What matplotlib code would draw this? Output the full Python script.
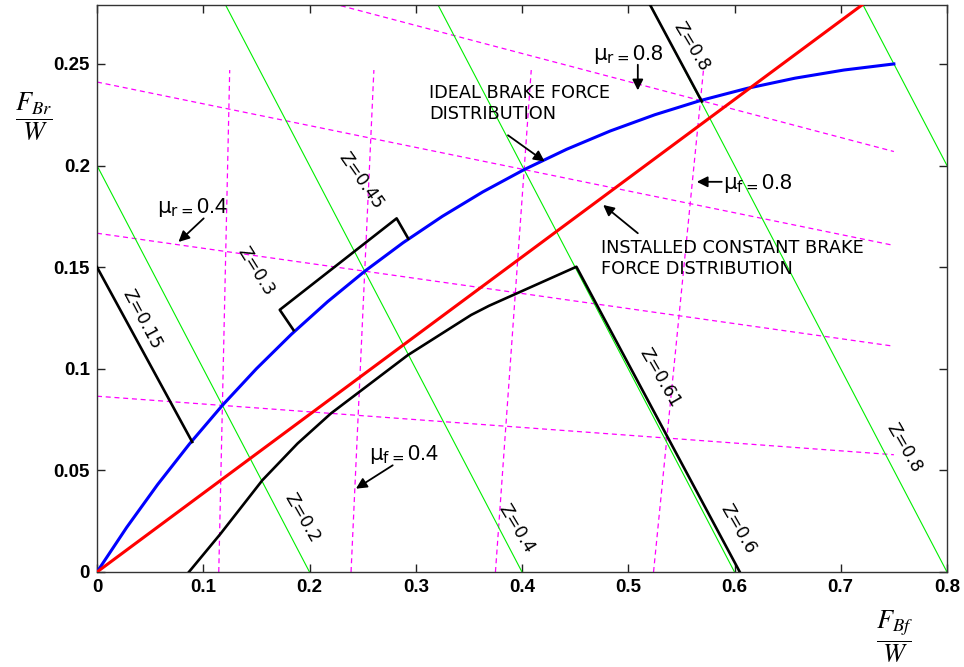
import matplotlib
matplotlib.use('Agg')
import matplotlib.pyplot as plt

# ---------------- data ----------------
# Ideal brake force distribution (blue curve)
ideal_fbf = [0, 0.028, 0.057, 0.087, 0.118, 0.150, 0.183, 0.217, 0.252, 0.288, 0.325,
             0.363, 0.402, 0.442, 0.483, 0.525, 0.568, 0.612, 0.657, 0.703, 0.750]
ideal_fbr = [0, 0.022, 0.043, 0.063, 0.082, 0.100, 0.117, 0.133, 0.148, 0.162, 0.175,
             0.187, 0.198, 0.208, 0.217, 0.225, 0.232, 0.238, 0.243, 0.247, 0.250]

# Installed constant brake force distribution (red line)
installed_fbf = [0, 0.72]
installed_fbr = [0, 0.279]

# Black curve (lower) and its Z=0.61 branch
actual_fbf = [0.0865, 0.1164, 0.1557, 0.1887, 0.2201, 0.2925, 0.3522, 0.369, 0.4512, 0.605]
actual_fbr = [0, 0.0189, 0.0452, 0.0632, 0.078, 0.1067, 0.1265, 0.131, 0.1502, 0]

# Black Z=0.15 segment, bracket, and Z=0.8 segment
z015_fbf = [0, 0.0896]
z015_fbr = [0.150, 0.064]
bracket_fbf = [0.185, 0.172, 0.282, 0.293]
bracket_fbr = [0.119, 0.129, 0.174, 0.164]
z08_fbf = [0.5204, 0.5693]
z08_fbr = [0.2792, 0.2315]

# Constant deceleration lines (green)
z_levels = [0.2, 0.4, 0.6, 0.8, 1.0]

# Front friction lines (magenta, near vertical)
mu_f_values = [0.2, 0.4, 0.6, 0.8]
mu_f_fbf_bottom = [0.1146, 0.2391, 0.375, 0.5238]
mu_f_fbf_top = [0.1249, 0.2606, 0.4087, 0.5708]
mu_f_fbr_top = 0.247

# Rear friction lines (magenta, near horizontal)
mu_r_values = [0.2, 0.4, 0.6, 0.8]
mu_r_fbr_left = [0.0865, 0.1667, 0.2411, 0.3103]
mu_r_fbr_right = [0.0577, 0.1111, 0.1607, 0.2069]
mu_r_fbf_right = 0.75

x_ticks = [0, 0.1, 0.2, 0.3, 0.4, 0.5, 0.6, 0.7, 0.8]
x_ticklabels = ['0', '0.1', '0.2', '0.3', '0.4', '0.5', '0.6', '0.7', '0.8']
y_ticks = [0, 0.05, 0.1, 0.15, 0.2, 0.25]
y_ticklabels = ['0', '0.05', '0.1', '0.15', '0.2', '0.25']

z_labels = [
    ('Z=0.15', 0.0419, 0.1244, -62),
    ('Z=0.3', 0.1493, 0.1480, -58),
    ('Z=0.45', 0.2488, 0.1923, -55),
    ('Z=0.2', 0.1934, 0.0267, -60),
    ('Z=0.4', 0.3946, 0.0215, -59),
    ('Z=0.61', 0.5298, 0.0957, -60),
    ('Z=0.6', 0.6038, 0.0210, -60),
    ('Z=0.8', 0.7600, 0.0610, -60),
    ('Z=0.8', 0.5597, 0.2586, -59),
]

mu_labels = [
    (r'$\mathrm{\mu}_{\mathrm{r=}}$0.4', 0.0566, 0.1767, (0.1004, 0.174), (0.0767, 0.1624)),
    (r'$\mathrm{\mu}_{\mathrm{r=}}$0.8', 0.467, 0.252, (0.509, 0.2496), (0.509, 0.237)),
    (r'$\mathrm{\mu}_{\mathrm{f=}}$0.8', 0.5896, 0.1884, (0.588, 0.192), (0.5645, 0.192)),
    (r'$\mathrm{\mu}_{\mathrm{f=}}$0.4', 0.2562, 0.055, (0.2783, 0.0525), (0.2437, 0.041)),
]

# ---------------- figure ----------------
fig = plt.figure(figsize=(9.64, 6.67), dpi=100)
ax = fig.add_axes([97 / 964, 1 - 572 / 667, 850 / 964, 567 / 667])

mag = '#ff00ff'
for xb, xt in zip(mu_f_fbf_bottom, mu_f_fbf_top):
    ax.plot([xb, xt], [0, mu_f_fbr_top], color=mag, lw=0.9, dashes=(4, 3), zorder=2)
for yl, yr in zip(mu_r_fbr_left, mu_r_fbr_right):
    ax.plot([0, mu_r_fbf_right], [yl, yr], color=mag, lw=0.9, dashes=(4, 3), zorder=2)
for z in z_levels:
    ax.plot([0, z], [z, 0], color='#00ee00', lw=0.8, zorder=2)

ax.plot(ideal_fbf, ideal_fbr, color='#0000ff', lw=2.2, zorder=4)
ax.plot(installed_fbf, installed_fbr, color='#ff0000', lw=2.2, zorder=4)
ax.plot(actual_fbf, actual_fbr, color='k', lw=1.9, zorder=5)
ax.plot(z015_fbf, z015_fbr, color='k', lw=1.9, zorder=5)
ax.plot(bracket_fbf, bracket_fbr, color='k', lw=1.9, zorder=5)
ax.plot(z08_fbf, z08_fbr, color='k', lw=1.9, zorder=5)

ax.set_xlim(0, 0.8)
ax.set_ylim(0, 0.279)
ax.set_xticks(x_ticks)
ax.set_xticklabels(x_ticklabels)
ax.set_yticks(y_ticks)
ax.set_yticklabels(y_ticklabels)
ax.tick_params(direction='in', length=6, width=1, top=True, right=True,
               labelsize=13.5, pad=5, colors='#222222', labelcolor='black')
for lab in ax.get_xticklabels() + ax.get_yticklabels():
    lab.set_family('Liberation Sans')
    lab.set_fontweight('bold')
for s in ax.spines.values():
    s.set_linewidth(1.0)
    s.set_color('#333333')

for txt, x, y, rot in z_labels:
    ax.text(x, y, txt, rotation=rot, rotation_mode='anchor', ha='center', va='center',
            fontsize=12.5, family='DejaVu Sans', zorder=6)

arrow = dict(arrowstyle='-|>', color='k', lw=1.3, mutation_scale=16, shrinkA=0, shrinkB=0)
for txt, x, y, tail, head in mu_labels:
    ax.text(x, y, txt, ha='left', va='baseline', fontsize=15.5, family='Liberation Sans',
            math_fontfamily='dejavusans', zorder=6)
    ax.annotate('', xy=head, xytext=tail, arrowprops=arrow, zorder=6)

ax.text(0.3123, 0.240, 'IDEAL BRAKE FORCE\nDISTRIBUTION', ha='left', va='top',
        fontsize=12.8, family='DejaVu Sans', linespacing=1.22, zorder=6)
ax.annotate('', xy=(0.4213, 0.2020), xytext=(0.3868, 0.2149), arrowprops=arrow, zorder=6)
ax.text(0.4748, 0.164, 'INSTALLED CONSTANT BRAKE\nFORCE DISTRIBUTION', ha='left', va='top',
        fontsize=12.8, family='DejaVu Sans', linespacing=1.22, zorder=6)
ax.annotate('', xy=(0.4764, 0.1806), xytext=(0.509, 0.1667), arrowprops=arrow, zorder=6)

fig.text(34 / 964, 1 - 116.7 / 667, r'$\dfrac{F_{Br}}{W}$', ha='center', va='center',
         fontsize=19, math_fontfamily='stix')
fig.text(895 / 964, 1 - 637 / 667, r'$\dfrac{F_{Bf}}{W}$', ha='center', va='center',
         fontsize=19, math_fontfamily='stix')

fig.savefig('out.png', dpi=100)
